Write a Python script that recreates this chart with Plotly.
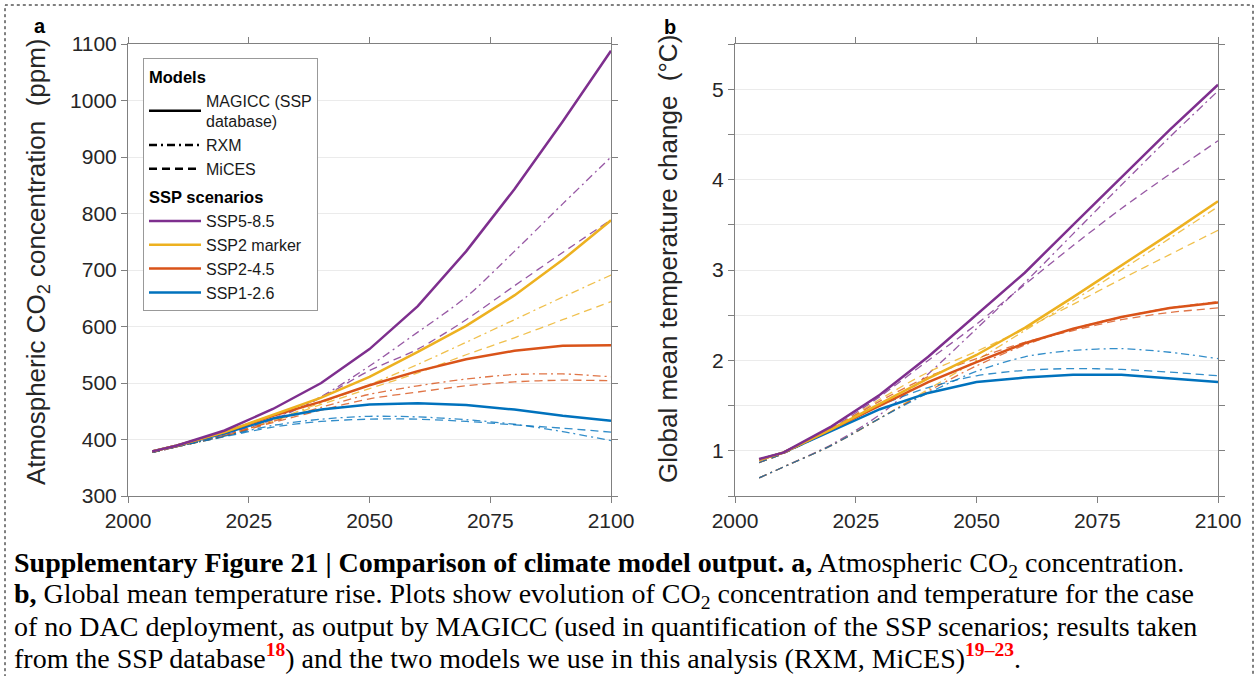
import plotly.graph_objects as go

W, H = 1257, 676

# ---------------- data ----------------
years = [2005, 2010, 2020, 2030, 2040, 2050, 2060, 2070, 2080, 2090, 2100]

# Panel a: atmospheric CO2 concentration (ppm)
co2_magicc_ssp585 = [379, 389, 416, 454, 500, 560, 636, 733, 843, 963, 1088]
co2_magicc_ssp2m = [379, 389, 413, 443, 474, 511, 555, 601, 655, 718, 788]
co2_magicc_ssp245 = [379, 389, 413, 442, 467, 496, 521, 542, 557, 566, 567]
co2_magicc_ssp126 = [379, 389, 411, 437, 453, 462, 464, 461, 453, 442, 433]

co2_rxm_ssp585 = [377, 387, 409, 437, 476, 530, 590, 652, 733, 817, 900]
co2_rxm_ssp2m = [377, 387, 407, 434, 465, 497, 533, 572, 612, 652, 691]
co2_rxm_ssp245 = [377, 387, 407, 432, 457, 480, 495, 507, 515, 516, 511]
co2_rxm_ssp126 = [377, 387, 406, 425, 436, 441, 440, 435, 427, 414, 398]

co2_mices_ssp585 = [377, 387, 408, 435, 474, 522, 560, 612, 672, 731, 789]
co2_mices_ssp2m = [377, 387, 406, 432, 462, 490, 518, 550, 580, 612, 644]
co2_mices_ssp245 = [377, 387, 406, 430, 452, 472, 484, 495, 502, 505, 504]
co2_mices_ssp126 = [377, 387, 405, 422, 432, 436, 436, 432, 426, 420, 413]

# Panel b: global mean temperature change (degC)
t_magicc_ssp585 = [0.91, 0.98, 1.27, 1.62, 2.04, 2.50, 2.97, 3.50, 4.02, 4.55, 5.05]
t_magicc_ssp2m = [0.90, 0.98, 1.24, 1.52, 1.80, 2.06, 2.36, 2.70, 3.05, 3.40, 3.76]
t_magicc_ssp245 = [0.90, 0.98, 1.24, 1.50, 1.76, 1.98, 2.19, 2.35, 2.48, 2.58, 2.64]
t_magicc_ssp126 = [0.90, 0.98, 1.22, 1.46, 1.64, 1.76, 1.81, 1.84, 1.84, 1.80, 1.76]

t_rxm_ssp585 = [0.70, 0.82, 1.07, 1.40, 1.85, 2.35, 2.86, 3.40, 3.94, 4.47, 4.98]
t_rxm_ssp2m = [0.70, 0.82, 1.06, 1.36, 1.68, 2.00, 2.33, 2.66, 3.00, 3.35, 3.70]
t_rxm_ssp245 = [0.70, 0.82, 1.06, 1.36, 1.66, 1.94, 2.17, 2.35, 2.48, 2.58, 2.65]
t_rxm_ssp126 = [0.70, 0.82, 1.06, 1.36, 1.64, 1.88, 2.04, 2.11, 2.13, 2.09, 2.02]

t_mices_ssp585 = [0.87, 0.97, 1.25, 1.60, 2.00, 2.40, 2.84, 3.27, 3.68, 4.06, 4.43]
t_mices_ssp2m = [0.87, 0.97, 1.24, 1.57, 1.87, 2.10, 2.35, 2.62, 2.90, 3.17, 3.44]
t_mices_ssp245 = [0.87, 0.97, 1.24, 1.55, 1.82, 2.02, 2.20, 2.33, 2.45, 2.53, 2.58]
t_mices_ssp126 = [0.87, 0.97, 1.23, 1.50, 1.70, 1.83, 1.89, 1.91, 1.90, 1.87, 1.83]

scenario_names = ["SSP5-8.5", "SSP2 marker", "SSP2-4.5", "SSP1-2.6"]
model_names = ["MAGICC (SSP<br>database)", "RXM", "MiCES"]
x_ticks = [2000, 2025, 2050, 2075, 2100]

# ---------------- styles ----------------
colors = ["#7E2F8E", "#EDB120", "#D95319", "#0072BD"]
DASHDOT = "8px,4px,2px,4px"
DASH = "8px,5px"
FONT = "Liberation Sans, Arial, Helvetica, sans-serif"
SERIF = "Liberation Serif, Times New Roman, serif"

fig = go.Figure()

co2_magicc = [co2_magicc_ssp585, co2_magicc_ssp2m, co2_magicc_ssp245, co2_magicc_ssp126]
co2_rxm = [co2_rxm_ssp585, co2_rxm_ssp2m, co2_rxm_ssp245, co2_rxm_ssp126]
co2_mices = [co2_mices_ssp585, co2_mices_ssp2m, co2_mices_ssp245, co2_mices_ssp126]
t_magicc = [t_magicc_ssp585, t_magicc_ssp2m, t_magicc_ssp245, t_magicc_ssp126]
t_rxm = [t_rxm_ssp585, t_rxm_ssp2m, t_rxm_ssp245, t_rxm_ssp126]
t_mices = [t_mices_ssp585, t_mices_ssp2m, t_mices_ssp245, t_mices_ssp126]

# Legend entries for models (line style only)
model_dashes = ["solid", DASHDOT, DASH]
for i, (nm, d) in enumerate(zip(model_names, model_dashes)):
    fig.add_trace(go.Scatter(
        x=[None], y=[None], mode="lines", name=nm,
        line=dict(color="#000000", width=2.5, dash=d),
        legendgroup="models", legendrank=1 + i,
        legendgrouptitle=dict(text="<b>Models</b>" if i == 0 else None,
                              font=dict(size=16.5, color="#000", family=FONT)),
        xaxis="x", yaxis="y", hoverinfo="skip"))

# Thin model lines (drawn first, under MAGICC)
for k in range(4):
    for data_a, data_b, d in [(co2_rxm[k], t_rxm[k], DASHDOT), (co2_mices[k], t_mices[k], DASH)]:
        fig.add_trace(go.Scatter(
            x=years, y=data_a, mode="lines", showlegend=False,
            line=dict(color=colors[k], width=1.3, dash=d, shape="spline", smoothing=0.8),
            opacity=0.8, xaxis="x", yaxis="y"))
        fig.add_trace(go.Scatter(
            x=years, y=data_b, mode="lines", showlegend=False,
            line=dict(color=colors[k], width=1.3, dash=d, shape="spline", smoothing=0.8),
            opacity=0.8, xaxis="x2", yaxis="y2"))

# MAGICC lines (legend entries for scenarios)
for k in range(3, -1, -1):
    fig.add_trace(go.Scatter(
        x=years, y=co2_magicc[k], mode="lines", name=scenario_names[k],
        line=dict(color=colors[k], width=2.5),
        legendgroup="scen", legendrank=10 + k,
        legendgrouptitle=dict(text="<b>SSP scenarios</b>",
                              font=dict(size=16.5, color="#000", family=FONT)),
        xaxis="x", yaxis="y"))
    fig.add_trace(go.Scatter(
        x=years, y=t_magicc[k], mode="lines", showlegend=False,
        line=dict(color=colors[k], width=2.5),
        xaxis="x2", yaxis="y2"))

# ---------------- layout ----------------
y_dom = [1 - 496 / H, 1 - 44 / H]
axis_common = dict(
    showline=True, linecolor="#808080", linewidth=1, mirror="ticks",
    ticks="outside", ticklen=6, tickcolor="#808080", tickwidth=1,
    tickfont=dict(family=FONT, size=21, color="#262626"),
    zeroline=False, automargin=False,
)
fig.update_layout(
    width=W, height=H,
    margin=dict(l=0, r=0, t=0, b=0, pad=0, autoexpand=False),
    paper_bgcolor="white", plot_bgcolor="white",
    showlegend=True,
    xaxis=dict(domain=[128 / W, 611 / W], range=[2000, 2100], tickvals=x_ticks,
               showgrid=False, anchor="y", **axis_common),
    yaxis=dict(domain=y_dom, range=[300, 1100], dtick=100, tick0=300,
               showgrid=True, gridcolor="#ebebeb", gridwidth=1, anchor="x", **axis_common),
    xaxis2=dict(domain=[735 / W, 1218 / W], range=[2000, 2100], tickvals=x_ticks,
                showgrid=False, anchor="y2", **axis_common),
    yaxis2=dict(domain=y_dom, range=[0.5, 5.5], tickvals=[1, 2, 3, 4, 5],
                showgrid=True, gridcolor="#ebebeb", gridwidth=1, anchor="x2",
                minor=dict(tick0=0.5, dtick=0.5, showgrid=True, gridcolor="#ebebeb",
                           ticks="outside", ticklen=6, tickcolor="#808080"),
                **axis_common),
    legend=dict(
        x=143 / W, y=1 - 58 / H, xanchor="left", yanchor="top",
        bgcolor="white", bordercolor="#999999", borderwidth=1,
        font=dict(family=FONT, size=16, color="#1a1a1a"),
        traceorder="grouped", tracegroupgap=4, itemwidth=52,
    ),
)

annotations = [
    dict(text="<b>a</b>", x=40 / W, y=1 - 26 / H, font=dict(family=FONT, size=20, color="#000")),
    dict(text="<b>b</b>", x=670 / W, y=1 - 27 / H, font=dict(family=FONT, size=20, color="#000")),
    dict(text="Atmospheric CO<sub>2</sub> concentration\u00a0\u00a0(ppm)", x=37 / W, y=1 - 262 / H,
         textangle=-90, font=dict(family=FONT, size=26, color="#262626")),
    dict(text="Global mean temperature change\u00a0\u00a0(°C)", x=668 / W, y=1 - 259 / H,
         textangle=-90, font=dict(family=FONT, size=26, color="#262626")),
]
caption_lines = [
    "<b>Supplementary Figure 21 | Comparison of climate model output. a,</b> Atmospheric CO<sub>2</sub> concentration.",
    "<b>b,</b> Global mean temperature rise. Plots show evolution of CO<sub>2</sub> concentration and temperature for the case",
    "of no DAC deployment, as output by MAGICC (used in quantification of the SSP scenarios; results taken",
    "from the SSP database<sup><b><span style='color:#ff0000'>18</span></b></sup>) and the two models we use in this analysis (RXM, MiCES)<sup><b><span style='color:#ff0000'>19–23</span></b></sup>.",
]
caption_y = [564, 595, 626, 656]
for txt, yy in zip(caption_lines, caption_y):
    annotations.append(dict(text=txt, x=12 / W, y=1 - yy / H, xanchor="left",
                            font=dict(family=SERIF, size=28, color="#000")))
for a in annotations:
    a.setdefault("xref", "paper")
    a.setdefault("yref", "paper")
    a.setdefault("showarrow", False)
    a.setdefault("xanchor", "center")
    a.setdefault("yanchor", "middle")
fig.update_layout(annotations=annotations)

fig.add_shape(type="rect", xref="paper", yref="paper",
              x0=5 / W, x1=1253 / W, y0=-0.05, y1=1 - 5 / H,
              line=dict(color="#000000", width=1, dash="dot"), fillcolor="rgba(0,0,0,0)",
              layer="above")

fig.write_html("out.html")
